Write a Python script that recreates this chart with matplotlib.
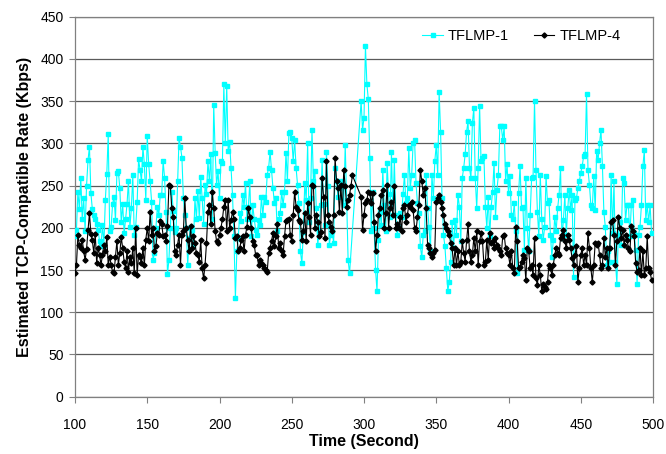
import numpy as np
import matplotlib
matplotlib.use("Agg")
import matplotlib.pyplot as plt

plt.rcParams['font.family'] = ['Liberation Sans', 'DejaVu Sans']

nan = np.nan
start_time = 100  # seconds, one sample per second

tflmp1 = [
    190, 197, 243, 222, 259, 211, 235, 196, 250, 280,
    296, 241, 222, 215, 211, 205, 197, 184, 178, 203,
    180, 233, 264, 311, 196, 201, 228, 237, 209, 265,
    267, 247, 207, 228, 194, 210, 228, 256, 201, 223,
    262, 192, 201, 230, 281, 269, 255, 296, 275, 233,
    309, 275, 255, 231, 162, 170, 200, 225, 215, 239,
    239, 279, 259, 219, 145, 162, 200, 243, 220, 195,
    200, 255, 306, 296, 283, 235, 215, 200, 156, 188,
    201, 198, 180, 235, 210, 244, 212, 260, 235, 205,
    251, 240, 279, 255, 287, 210, 346, 289, 251, 267,
    235, 279, 277, 370, 300, 368, 291, 302, 271, 239,
    190, 117, 172, 188, 217, 208, 239, 225, 253, 210,
    225, 255, 190, 227, 211, 198, 192, 209, 203, 237,
    215, 237, 230, 263, 271, 290, 268, 247, 229, 235,
    196, 210, 217, 243, 227, 242, 289, 255, 312, 314,
    306, 279, 304, 271, 251, 229, 172, 158, 195, 253,
    233, 300, 207, 235, 316, 255, 267, 223, 180, 196,
    227, 280, 228, 203, 290, 250, 180, 192, 196, 182,
    271, 255, 237, 247, 250, 255, 227, 298, 233, 162,
    146, nan, nan, nan, nan, nan, nan, nan, 350, 316,
    330, 415, 370, 352, 283, 196, 243, 200, 150, 125,
    186, 219, 203, 269, 227, 196, 277, 240, 213, 290,
    215, 280, 215, 192, 201, 217, 213, 240, 263, 229,
    235, 294, 247, 263, 300, 304, 253, 229, 217, 178,
    165, 192, 196, 263, 223, 201, 172, 263, 235, 279,
    298, 263, 361, 314, 235, 192, 178, 152, 125, 136,
    160, 207, 176, 209, 192, 239, 225, 184, 259, 271,
    287, 314, 326, 271, 259, 324, 342, 259, 223, 271,
    344, 279, 283, 285, 225, 200, 237, 190, 225, 243,
    277, 213, 245, 263, 320, 320, 304, 320, 255, 275,
    241, 261, 215, 211, 229, 196, 146, 241, 273, 223,
    225, 174, 259, 200, 172, 215, 259, 260, 350, 269,
    219, 190, 263, 210, 185, 201, 261, 229, 233, 192,
    166, 185, 213, 196, 223, 239, 271, 188, 209, 239,
    192, 223, 245, 221, 239, 142, 233, 235, 247, 255,
    265, 273, 285, 287, 358, 269, 251, 227, 223, 261,
    221, 291, 280, 300, 316, 273, 219, 201, 156, 172,
    160, 263, 194, 255, 160, 134, 192, 207, 180, 259,
    253, 209, 227, 227, 190, 227, 233, 194, 174, 134,
    192, 201, 227, 273, 292, 209, 227, 207, 227, 194,
]

tflmp4 = [
    146, 156, 191, 180, 176, 186, 172, 162, 175, 197,
    217, 193, 185, 170, 193, 158, 176, 168, 156, 168,
    180, 172, 189, 156, 166, 156, 148, 146, 166, 184,
    156, 170, 189, 176, 160, 152, 173, 148, 166, 158,
    176, 146, 200, 144, 168, 166, 158, 176, 156, 186,
    200, 184, 219, 192, 200, 172, 178, 194, 192, 208,
    205, 190, 192, 184, 202, 251, 249, 223, 213, 172,
    168, 180, 192, 156, 192, 196, 235, 200, 185, 172,
    202, 176, 190, 182, 170, 168, 160, 185, 152, 140,
    156, 182, 219, 227, 205, 243, 223, 196, 184, 182,
    192, 200, 210, 225, 233, 196, 233, 200, 209, 219,
    211, 188, 190, 172, 176, 185, 190, 172, 192, 201,
    223, 213, 200, 184, 180, 168, 168, 156, 162, 158,
    156, 152, 150, 148, 170, 176, 184, 194, 178, 190,
    204, 176, 182, 172, 168, 190, 208, 209, 211, 192,
    184, 215, 243, 225, 221, 209, 207, 185, 196, 217,
    184, 229, 213, 192, 251, 249, 200, 215, 207, 190,
    195, 259, 237, 188, 279, 215, 207, 201, 196, 215,
    283, 255, 247, 219, 251, 217, 269, 249, 225, 233,
    239, 250, 262, nan, nan, nan, nan, nan, 237, 198,
    215, 229, 233, 243, 241, 229, 241, 207, 172, 192,
    215, 223, 239, 245, 200, 217, 251, 200, 223, 231,
    215, 249, 200, 204, 200, 213, 196, 223, 227, 207,
    215, 227, 225, 231, 221, 200, 196, 213, 227, 269,
    255, 239, 247, 223, 180, 176, 170, 166, 170, 174,
    231, 235, 239, 231, 223, 215, 204, 200, 196, 192,
    182, 176, 156, 176, 156, 172, 156, 160, 184, 170,
    160, 185, 204, 172, 160, 168, 188, 172, 196, 156,
    184, 194, 184, 156, 160, 186, 162, 194, 182, 184,
    176, 188, 180, 176, 172, 168, 190, 192, 176, 170,
    168, 156, 172, 152, 146, 201, 184, 152, 154, 160,
    168, 164, 138, 176, 172, 152, 156, 144, 188, 140,
    132, 156, 144, 125, 134, 130, 128, 136, 156, 152,
    144, 156, 168, 176, 170, 168, 188, 192, 198, 184,
    176, 192, 186, 176, 164, 156, 168, 178, 136, 152,
    168, 176, 156, 168, 156, 194, 176, 152, 136, 156,
    182, 180, 182, 168, 152, 156, 188, 166, 176, 152,
    176, 207, 209, 192, 156, 184, 213, 200, 188, 198,
    180, 192, 186, 176, 172, 202, 196, 190, 158, 148,
    150, 176, 144, 172, 144, 152, 190, 152, 148, 138,
]

series_names = ['TFLMP-1', 'TFLMP-4']
x_ticks = list(range(100, 501, 50))
y_ticks = list(range(0, 451, 50))


def valid(values):
    v = np.array(values, dtype=float)
    t = np.arange(start_time, start_time + len(v))
    m = ~np.isnan(v)
    return t[m], v[m]


W, H = 666, 454
fig = plt.figure(figsize=(W / 100, H / 100), dpi=100)
ax = fig.add_axes([75 / W, 1 - 396.7 / H, (653 - 75) / W, (396.7 - 16.7) / H])

t1, v1 = valid(tflmp1)
t4, v4 = valid(tflmp4)
ax.plot(t1, v1, color='#00FFFF', lw=0.8, marker='s', ms=2.6,
        mfc='#00FFFF', mec='#00FFFF', label=series_names[0], zorder=3)
ax.plot(t4, v4, color='black', lw=0.8, marker='D', ms=2.6,
        mfc='black', mec='black', label=series_names[1], zorder=4)

ax.set_xlim(100, 500)
ax.set_ylim(0, 450)
ax.set_xticks(x_ticks)
ax.set_yticks(y_ticks)
ax.grid(axis='y', color='#5a5a5a', lw=0.9)
ax.grid(axis='x', visible=False)
ax.set_axisbelow(True)
for s in ax.spines.values():
    s.set_color('#808080')
    s.set_linewidth(0.9)

ax.tick_params(axis='x', direction='out', length=4, pad=11, labelsize=10,
               color='#808080')
ax.tick_params(axis='y', direction='out', length=4.3, pad=4, labelsize=10,
               color='#808080')

ax.set_xlabel('Time (Second)', fontweight='bold', fontsize=11.5, labelpad=2)
ax.set_ylabel('Estimated TCP-Compatible Rate (Kbps)', fontweight='bold',
              fontsize=11.5, labelpad=6)

ax.legend(loc='center', bbox_to_anchor=(0.7725, 0.949), ncol=2, frameon=False,
          fontsize=10.5, handlelength=1.4, handletextpad=0.35,
          columnspacing=1.7, borderaxespad=0)

fig.savefig('out.png', dpi=100)
